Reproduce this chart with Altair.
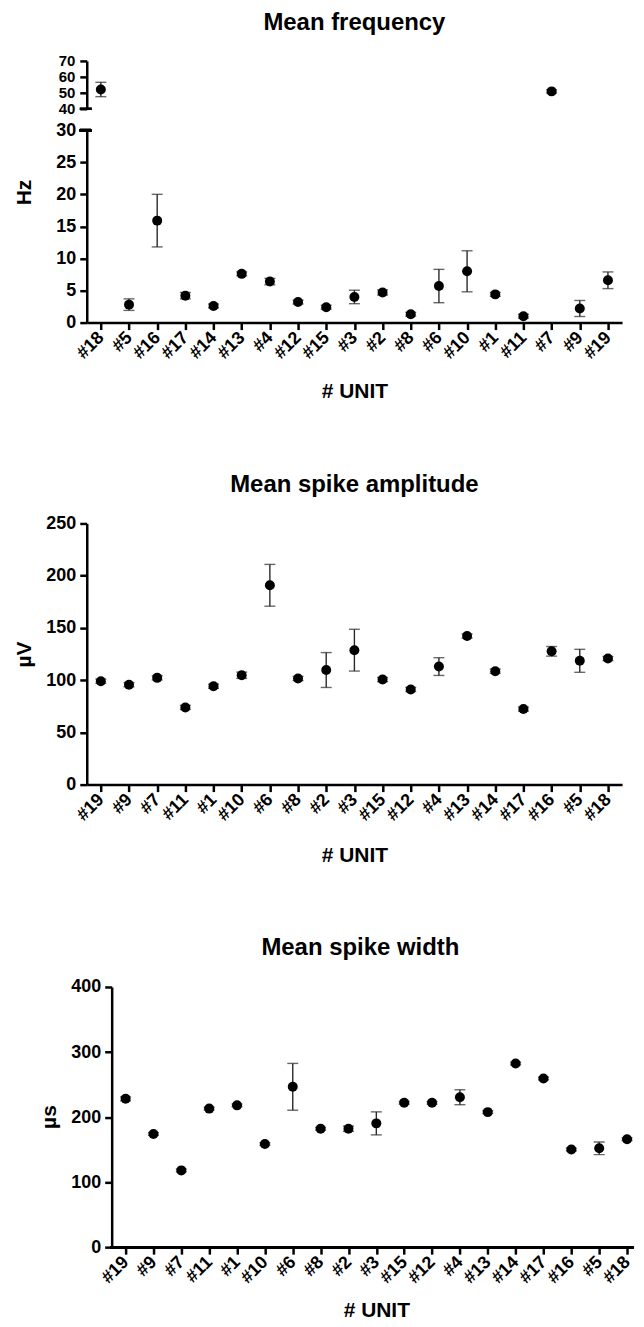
import altair as alt
import pandas as pd

FONT = "Liberation Sans"

# ---- data ----
units_freq = ["#18", "#5", "#16", "#17", "#14", "#13", "#4", "#12", "#15", "#3",
              "#2", "#8", "#6", "#10", "#1", "#11", "#7", "#9", "#19"]
freq_mean = [52.1, 2.8, 15.9, 4.2, 2.6, 7.6, 6.4, 3.2, 2.4, 4.0,
             4.7, 1.3, 5.7, 8.0, 4.4, 1.0, 50.9, 2.2, 6.6]
freq_err = [4.5, 0.9, 4.1, 0.5, 0.3, 0.3, 0.5, 0.3, 0.3, 1.05,
            0.4, 0.3, 2.6, 3.2, 0.3, 0.3, 1.0, 1.25, 1.3]

units_amp = ["#19", "#9", "#7", "#11", "#1", "#10", "#6", "#8", "#2", "#3",
             "#15", "#12", "#4", "#13", "#14", "#17", "#16", "#5", "#18"]
amp_mean = [99.0, 95.6, 102.2, 73.9, 94.2, 104.7, 190.8, 101.6, 109.7, 128.7,
            100.6, 91.1, 113.0, 142.2, 108.6, 72.3, 127.6, 118.5, 120.7]
amp_err = [2, 2, 2, 2, 2, 3, 20, 2, 16.7, 20,
           2, 2, 8.5, 2, 2, 2, 4.6, 11, 2]

units_width = units_amp
width_mean = [228, 174, 118, 213, 218, 158.5, 246.5, 182, 182, 190.3,
              222, 222, 230.5, 207.6, 282.3, 259.3, 150, 152, 166]
width_err = [3, 2, 2, 2, 2, 2, 36, 2, 4, 17.7,
             2, 2, 11.5, 2, 2, 2, 2, 9.7, 2]

ticks_freq_top = [40, 50, 60, 70]
ticks_freq_bot = [0, 5, 10, 15, 20, 25, 30]
ticks_amp = [0, 50, 100, 150, 200, 250]
ticks_width = [0, 100, 200, 300, 400]


def make_df(units, mean, err):
    return pd.DataFrame({
        "unit": units,
        "mean": mean,
        "lo": [m - e for m, e in zip(mean, err)],
        "hi": [m + e for m, e in zip(mean, err)],
    })


ERR_COLOR = "#2a2a2a"


def panel(df, units, ydomain, yticks, height, width, ytitle=None, yaxis_extra=None,
          xaxis=True, xrange=None, title=None, break_at=None, xtitle_pad=19,
          own_xdomain=None):
    xs = dict(type="point", padding=0.5, domain=units)
    if xrange is not None:
        xs["range"] = xrange
    xscale = alt.Scale(**xs)
    if xaxis:
        xax = alt.Axis(title="# UNIT", labelAngle=-45, labelAlign="right",
                       labelBaseline="middle", labelPadding=5,
                       titlePadding=xtitle_pad, domain=own_xdomain is None)
    else:
        xax = None
    yargs = dict(values=yticks, title=ytitle, labelOverlap=False, labelFlush=False)
    if yaxis_extra:
        yargs.update(yaxis_extra)
    yax = alt.Axis(**yargs)
    yscale = alt.Scale(domain=ydomain, nice=False, zero=False)

    def X():
        return alt.X("unit:N", sort=units, scale=xscale, axis=xax)

    def Y(f):
        return alt.Y(f"{f}:Q", scale=yscale, axis=yax)

    base = alt.Chart(df)
    rule = base.mark_rule(color=ERR_COLOR, strokeWidth=1.4).encode(x=X(), y=Y("lo"), y2="hi:Q")
    cap_hi = base.mark_tick(color=ERR_COLOR, thickness=1.4, size=11).encode(x=X(), y=Y("hi"))
    cap_lo = base.mark_tick(color=ERR_COLOR, thickness=1.4, size=11).encode(x=X(), y=Y("lo"))
    pts = base.mark_circle(size=100, color="black", opacity=1).encode(x=X(), y=Y("mean"))
    layers = [rule, cap_hi, cap_lo, pts]
    if break_at is not None:
        brk = alt.Chart(df).mark_rule(color="black", strokeWidth=2.5).encode(
            x=alt.value(-7), x2=alt.value(5),
            y=alt.YDatum(break_at, scale=yscale, axis=yax)
        )
        layers.append(brk)
    if own_xdomain is not None:
        # x-axis baseline drawn as a rule so that it stops at the page edge
        dom = alt.Chart(df).mark_rule(color="black", strokeWidth=2.5).encode(
            x=alt.value(own_xdomain[0]), x2=alt.value(own_xdomain[1]),
            y=alt.YDatum(ydomain[0], scale=yscale, axis=yax)
        )
        layers.append(dom)
    ch = alt.layer(*layers).properties(width=width, height=height)
    if title:
        ch = ch.properties(title=title)
    return ch


df_freq = make_df(units_freq, freq_mean, freq_err)
df_top = df_freq[df_freq["mean"] >= 35]
df_bot = df_freq[df_freq["mean"] < 35]

W = 537
YT = dict(titleBaseline="middle", titleAlign="center", titleAngle=-90)

p1_top = panel(df_top, units_freq, [40, 70], ticks_freq_top, 48, W,
               xaxis=False, title=alt.TitleParams("Mean frequency", offset=19.5),
               break_at=40, yaxis_extra=dict(labelFontSize=15, labelPadding=5))
p1_bot = panel(df_bot, units_freq, [0, 30], ticks_freq_bot, 193, W,
               ytitle="Hz", yaxis_extra=dict(titleX=-62, titleY=62, **YT), break_at=30)
p1 = alt.vconcat(p1_top, p1_bot, spacing=4.5)

p2 = panel(make_df(units_amp, amp_mean, amp_err), units_amp, [0, 250],
           ticks_amp, 262, W, ytitle="µV",
           yaxis_extra=dict(titleX=-62, titleY=131, **YT), xtitle_pad=21,
           title="Mean spike amplitude")

SHIFT = 25
W3 = 549
p3 = panel(make_df(units_width, width_mean, width_err), units_width, [0, 400],
           ticks_width, 261, W3, ytitle="µs",
           yaxis_extra=dict(offset=-SHIFT, titleX=-62, titleY=130, **YT),
           xrange=[SHIFT, SHIFT + W - 6], xtitle_pad=13,
           own_xdomain=(SHIFT - 1, W3),
           title="Mean spike width")

chart = alt.vconcat(p1, p2, p3, spacing=70).properties(
    padding={"left": 6, "top": 0, "right": 0, "bottom": 0}
).configure_view(stroke=None).configure_axis(
    labelFont=FONT, labelFontSize=18, labelFontWeight="bold", labelColor="black",
    titleFont=FONT, titleFontSize=21, titleFontWeight="bold", titleColor="black",
    domainColor="black", domainWidth=2.5, tickColor="black", tickWidth=2.5,
    tickSize=7, grid=False, labelPadding=4
).configure_title(
    font=FONT, fontSize=24, fontWeight="bold", color="black", anchor="middle", offset=18
)

chart.save("out.html", embed_options={"renderer": "svg", "actions": False})
